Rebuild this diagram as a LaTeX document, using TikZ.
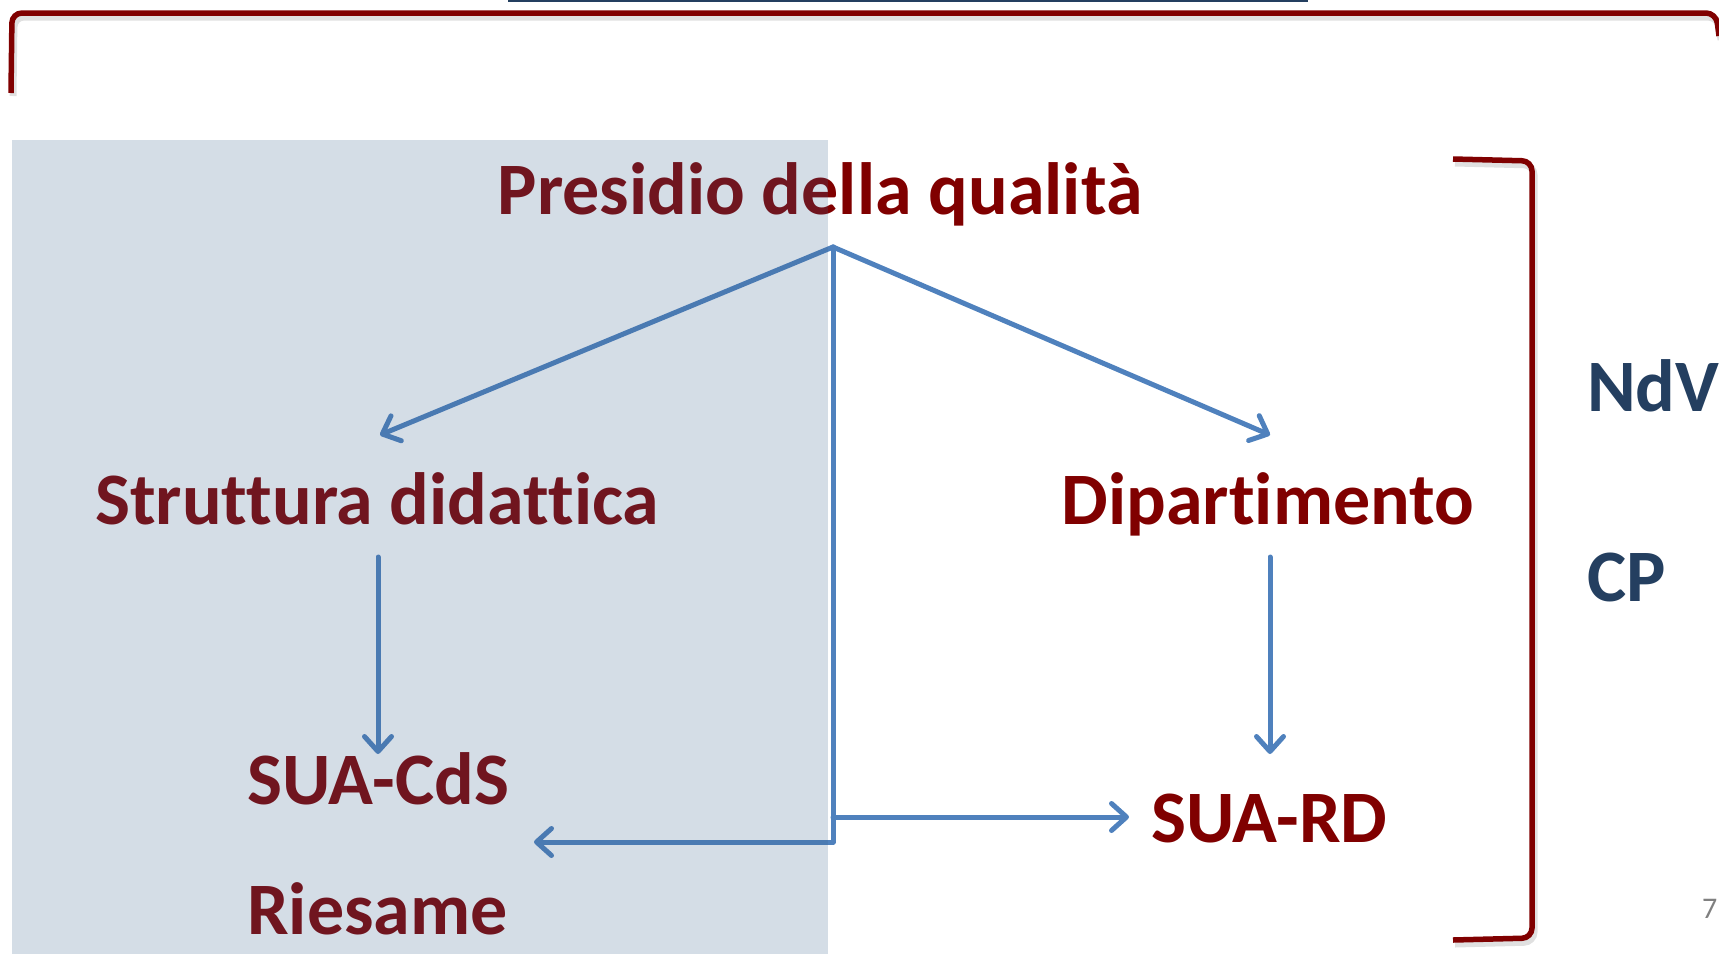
\documentclass[tikz,border=0pt]{standalone}
\usepackage{fontspec}
\setmainfont{Carlito}[Ligatures=NoCommon]
\usetikzlibrary{arrows.meta}

\definecolor{qualred}{RGB}{128,0,0}
\definecolor{sidenavy}{RGB}{36,63,96}
\definecolor{linkblue}{RGB}{79,129,189}
\definecolor{shadeblue}{RGB}{58,98,143}

\tikzset{
  title/.style={font=\fontsize{74}{80}\selectfont\bfseries, text=qualred, inner sep=0pt},
  side/.style={font=\fontsize{74}{80}\selectfont\bfseries, text=sidenavy, inner sep=0pt, anchor=base west},
  link/.style={draw=linkblue, line width=5pt, line cap=round, line join=round,
    -{Straight Barb[round,length=15pt,width=27pt]}},
  bracket/.style={draw=qualred, line width=5.5pt, rounded corners=10pt},
  bracketshadow/.style={draw=black, opacity=0.12, line width=7pt, rounded corners=10pt},
}

\begin{document}
\begin{tikzpicture}[x=1pt,y=-1pt]
    % Fix the page size
    \useasboundingbox (0,0) rectangle (1719,954);

    % Title rule at the top edge
    \draw[sidenavy, line width=3pt] (508,0) -- (1308,0);

    % Draw the brackets
    \draw[bracketshadow] (13,96) -- (14,17) -- (1718,17) -- (1721,40);
    \draw[bracket] (11,93) -- (12,13) -- (1716,13) -- (1719,36);
    \draw[bracketshadow] (1455,163) -- (1534,165) -- (1534,942) -- (1455,944);
    \draw[bracket] (1453,159) -- (1532,161) -- (1532,938) -- (1453,940);

    % Label the boxes
    \node[title, anchor=base] (presidio) at (820,214) {Presidio della qualità};
    \node[title, anchor=base] (struttura) at (377,524) {Struttura didattica};
    \node[title, anchor=base] (dipartimento) at (1268,524) {Dipartimento};
    \node[title, anchor=base west] (suacds) at (247,804) {SUA-CdS};
    \node[title, anchor=base west] (riesame) at (247,934) {Riesame};
    \node[title, anchor=base west] (suard) at (1151,842) {SUA-RD};
    \node[side] (ndv) at (1587,411) {NdV};
    \node[side] (cp) at (1587,601) {CP};
    \node[anchor=base west, inner sep=0pt, text=gray, font=\fontsize{30}{32}\selectfont] (pagenum) at (1702,918) {7};

    % Arrow ends
    \coordinate (apex) at (833,247);
    \coordinate (struttura_in) at (380,435);
    \coordinate (dipartimento_in) at (1270,435);
    \coordinate (struttura_out) at (378,557);
    \coordinate (suacds_in) at (378,754);
    \coordinate (dipartimento_out) at (1270,557);
    \coordinate (suard_top) at (1270,754);
    \coordinate (corner) at (833,842);
    \coordinate (riesame_in) at (534,842);
    \coordinate (branch) at (833,817);
    \coordinate (suard_in) at (1129,817);

    % Draw the arrows
    \draw[link] (apex) -- (struttura_in);
    \draw[link] (apex) -- (dipartimento_in);
    \draw[link] (struttura_out) -- (suacds_in);
    \draw[link] (dipartimento_out) -- (suard_top);
    \draw[link] (apex) -- (corner) -- (riesame_in);
    \draw[link] (branch) -- (suard_in);

    % Shaded panel on the left
    \fill[shadeblue, fill opacity=0.22] (11.5,140) rectangle (828,954);
\end{tikzpicture}
\end{document}
